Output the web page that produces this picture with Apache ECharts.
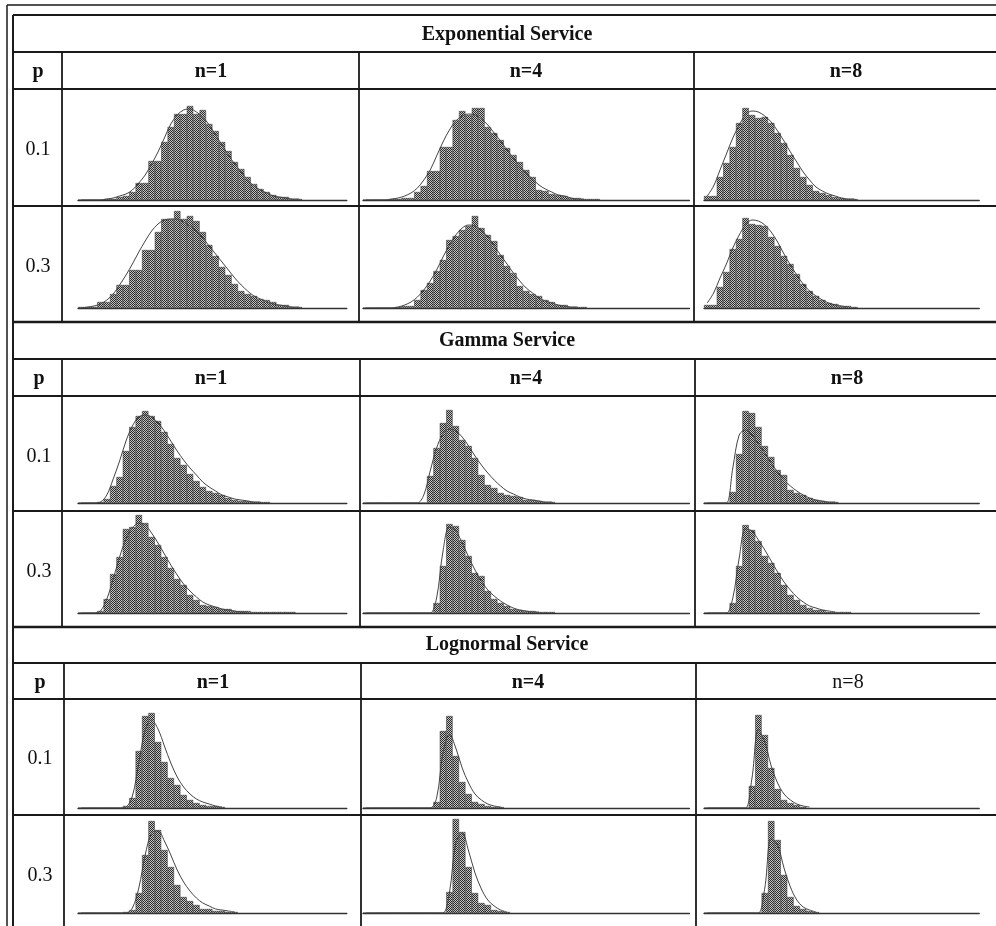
<!DOCTYPE html>
<html><head><meta charset="utf-8">
<script src="https://cdn.jsdelivr.net/npm/echarts@6/dist/echarts.min.js"></script>
<style>html,body{margin:0;padding:0;background:#fff}#c{width:996px;height:926px}</style>
</head><body><div id="c"></div>
<script>
// ---------- DATA ----------
const serviceTitles = ['Exponential Service', 'Gamma Service', 'Lognormal Service'];
const nLabels = ['n=1', 'n=4', 'n=8'];
const pLabels = ['0.1', '0.3'];

// Exponential service
const expN1P01Bars  = [0,0,0,0,1,1,3,4,8,17,17,39,39,58,73,86,86,94,86,90,76,69,58,49,38,31,23,16,11,8,5,3,3,1,1];
const expN1P01Curve = [0,0,0,0,1,2,4,6,10,17,25,36,48,62,76,85,90,91,88,83,75,65,55,45,36,28,20,14,10,7,4,3,2,1,1];
const expN4P01Bars  = [0,0,0,0,1,1,2,2,8,14,29,29,53,53,80,89,85,92,92,73,67,60,52,45,38,30,23,10,9,6,5,4,2,2,1,1,1];
const expN4P01Curve = [0,0,0,0,1,2,4,7,12,20,30,44,58,70,79,84,86,85,81,75,67,59,50,42,34,27,21,15,11,8,5,4,2,1,1];
const expN8P01Bars  = [4,4,23,37,53,77,92,85,82,83,77,67,57,45,32,23,15,9,7,5,3,2,1,1];
const expN8P01Curve = [4,14,30,46,62,75,85,89,88,84,78,69,59,48,38,28,20,13,9,6,4,2,1,1];
const expN1P03Bars  = [1,1,1,6,6,14,23,23,38,38,58,58,76,89,89,97,89,92,87,76,63,52,41,33,24,17,14,12,9,8,6,3,3,1,1];
const expN1P03Curve = [0,1,2,4,8,14,23,33,44,56,67,77,84,88,89,89,86,82,77,70,62,54,46,38,30,23,17,12,9,6,4,3,2,1,1];
const expN4P03Bars  = [0,0,0,0,0,1,2,2,8,18,25,37,48,68,72,78,82,92,80,73,67,53,42,35,22,17,14,12,8,6,3,3,1,1,1];
const expN4P03Curve = [0,0,0,0,0,1,3,6,11,18,27,38,51,63,73,80,83,82,78,71,62,53,44,35,27,20,15,10,7,5,3,2,1,1];
const expN8P03Bars  = [3,3,21,36,59,69,90,84,83,82,71,62,52,44,34,24,17,12,8,5,4,2,2,1];
const expN8P03Curve = [5,15,30,44,60,73,83,88,87,83,76,66,54,43,33,24,17,12,8,5,3,2,1];

// Gamma service
const gamN1P01Bars  = [0,0,0,1,4,17,26,52,76,87,92,87,82,71,59,45,38,29,22,16,12,10,8,5,3,2,2,1,1,1];
const gamN1P01Curve = [0,0,0,1,8,24,42,62,77,86,88,86,80,72,62,52,43,35,28,21,16,12,8,6,4,3,2,1,1];
const gamN4P01Bars  = [0,0,0,0,0,0,0,0,0,0,27,55,80,93,77,63,57,45,28,18,15,10,8,7,6,3,3,2,1,1];
const gamN4P01Curve = [0,0,0,0,0,0,0,0,0,8,32,55,69,74,72,66,57,47,38,30,23,17,12,9,6,4,3,2,1,1];
const gamN8P01Bars  = [0,0,0,0,11,49,92,90,76,57,46,33,28,13,10,8,5,3,2,1,1];
const gamN8P01Curve = [0,0,0,0,35,68,73,68,59,50,40,31,23,17,12,8,5,3,2,1,1];
const gamN1P03Bars  = [0,0,0,2,14,39,56,84,86,98,90,76,68,56,45,34,28,18,13,8,7,6,4,4,2,2,2,1,1,1,1,1,1,1];
const gamN1P03Curve = [0,0,0,2,14,34,56,74,85,90,88,80,70,59,48,38,29,22,16,11,8,6,4,3,2,1,1];
const gamN4P03Bars  = [0,0,0,0,0,0,0,0,0,0,0,10,47,89,87,73,57,40,37,22,14,10,7,4,3,2,2,1,1,1];
const gamN4P03Curve = [0,0,0,0,0,0,0,0,0,0,0,15,62,86,82,70,56,43,32,23,17,12,8,5,3,2,1,1];
const gamN8P03Bars  = [0,0,0,0,10,47,88,83,72,57,50,40,28,18,13,8,5,3,3,1,1,1,1];
const gamN8P03Curve = [0,0,0,0,15,55,84,82,73,63,52,41,31,23,16,11,7,5,3,2,1];

// Lognormal service
const logN1P01Bars  = [0,0,0,0,0,0,0,2,10,57,92,95,66,46,30,23,13,8,5,3,2,2,1];
const logN1P01Curve = [0,0,0,0,0,0,0,1,12,45,78,88,79,62,45,31,21,14,9,6,4,2,1];
const logN4P01Bars  = [0,0,0,0,0,0,0,0,0,0,0,6,77,92,52,26,14,6,4,2,1,1];
const logN4P01Curve = [0,0,0,0,0,0,0,0,0,0,0,10,55,74,60,40,25,14,8,4,2,1];
const logN8P01Bars  = [0,0,0,0,0,0,0,22,93,73,40,19,8,5,3,1];
const logN8P01Curve = [0,0,0,0,0,0,0,30,78,66,42,25,14,8,4,2,1];
const logN1P03Bars  = [0,0,0,0,0,0,0,1,3,20,58,92,83,63,46,28,16,12,8,4,4,2,2,1,1];
const logN1P03Curve = [0,0,0,0,0,0,0,0,5,25,58,80,82,72,58,43,31,22,15,10,7,4,3,2,1];
const logN4P03Bars  = [0,0,0,0,0,0,0,0,0,0,0,0,0,21,94,81,46,20,10,8,3,2,1];
const logN4P03Curve = [0,0,0,0,0,0,0,0,0,0,0,0,0,20,70,80,62,40,24,13,7,3,1];
const logN8P03Bars  = [0,0,0,0,0,0,0,0,0,20,92,73,38,16,7,4,2,1];
const logN8P03Curve = [0,0,0,0,0,0,0,0,0,25,75,68,45,26,13,6,3,1];

// ---------- LAYOUT ----------
const BIN = 6.4;
const colLeft = [78, 363, 704];
const colBins = [42, 51, 43];
const rowBase = [[200, 308], [503, 613], [808, 913]];
const PH = 100; // plot height in px, y max

const panels = [
  [0,0,0,expN1P01Bars,expN1P01Curve],[0,0,1,expN4P01Bars,expN4P01Curve],[0,0,2,expN8P01Bars,expN8P01Curve],
  [0,1,0,expN1P03Bars,expN1P03Curve],[0,1,1,expN4P03Bars,expN4P03Curve],[0,1,2,expN8P03Bars,expN8P03Curve],
  [1,0,0,gamN1P01Bars,gamN1P01Curve],[1,0,1,gamN4P01Bars,gamN4P01Curve],[1,0,2,gamN8P01Bars,gamN8P01Curve],
  [1,1,0,gamN1P03Bars,gamN1P03Curve],[1,1,1,gamN4P03Bars,gamN4P03Curve],[1,1,2,gamN8P03Bars,gamN8P03Curve],
  [2,0,0,logN1P01Bars,logN1P01Curve],[2,0,1,logN4P01Bars,logN4P01Curve],[2,0,2,logN8P01Bars,logN8P01Curve],
  [2,1,0,logN1P03Bars,logN1P03Curve],[2,1,1,logN4P03Bars,logN4P03Curve],[2,1,2,logN8P03Bars,logN8P03Curve]
];

// hatch pattern
const pat = document.createElement('canvas');
pat.width = 4; pat.height = 4;
const pc = pat.getContext('2d');
pc.fillStyle = '#c4c4c4'; pc.fillRect(0,0,4,4);
pc.fillStyle = '#2a2a2a';
for (let y = 0; y < 4; y++) for (let x = 0; x < 4; x++) if ((x + y) % 2 === 0) pc.fillRect(x, y, 1, 1);

const grid = [], xAxis = [], yAxis = [], series = [];
panels.forEach((pn, i) => {
  const [s, r, c, bars, curve] = pn;
  const base = rowBase[s][r];
  const cats = Array.from({length: colBins[c]}, (_, k) => String(k));
  grid.push({left: colLeft[c], top: base - PH, width: colBins[c] * BIN, height: PH});
  xAxis.push({type: 'category', gridIndex: i, data: cats, boundaryGap: true,
    axisLine: {show: true, lineStyle: {color: '#333', width: 1.4}},
    axisTick: {show: false}, axisLabel: {show: false}, splitLine: {show: false}});
  yAxis.push({type: 'value', gridIndex: i, min: 0, max: PH, show: false});
  series.push({type: 'bar', xAxisIndex: i, yAxisIndex: i, data: bars,
    barCategoryGap: '0%', barGap: '0%',
    itemStyle: {color: {image: pat, repeat: 'repeat'}, borderColor: '#333', borderWidth: 0.5}});
  series.push({type: 'line', xAxisIndex: i, yAxisIndex: i, data: curve, smooth: 0.35,
    symbol: 'none', z: 4, lineStyle: {color: '#444', width: 1}});
});

// table lines & text
const g = [];
const LC = '#1a1a1a';
function hl(y, x1, x2, w) { g.push({type: 'line', shape: {x1, y1: y, x2, y2: y}, style: {stroke: LC, lineWidth: w}, silent: true}); }
function vl(x, y1, y2, w) { g.push({type: 'line', shape: {x1: x, y1, x2: x, y2}, style: {stroke: LC, lineWidth: w}, silent: true}); }
function tx(text, x, y, bold) {
  g.push({type: 'text', x, y, silent: true, style: {text, fill: '#111',
    font: (bold ? 'bold ' : '') + '20px "Liberation Serif", "Times New Roman", serif',
    textAlign: 'center', textVerticalAlign: 'middle', align: 'center', verticalAlign: 'middle'}});
}
hl(5, 7, 996, 1.5); vl(7, 5, 926, 1.5);
hl(15, 13, 996, 2); vl(13, 15, 926, 2);
[52, 89, 206, 359, 396, 511, 663, 699, 815].forEach(y => hl(y, 13, 996, 1.8));
[322, 627].forEach(y => hl(y, 13, 996, 2.4));
const blocks = [
  {y1: 52, y2: 322, xs: [62, 359, 694], title: 35, head: 72, rows: [150, 267]},
  {y1: 359, y2: 627, xs: [62, 360, 695], title: 341, head: 379, rows: [457, 572]},
  {y1: 663, y2: 926, xs: [64, 361, 696], title: 645, head: 683, rows: [759, 876]}
];
const headX = [[211, 526, 846], [211, 526, 847], [213, 528, 848]];
blocks.forEach((b, s) => {
  b.xs.forEach(x => vl(x, b.y1, b.y2, 1.8));
  tx(serviceTitles[s], 507, b.title, true);
  tx('p', 38 + s, b.head, true);
  nLabels.forEach((t, c) => tx(t, headX[s][c], b.head, !(s === 2 && c === 2)));
  pLabels.forEach((t, r) => tx(t, 38 + s, b.rows[r], false));
});

const chart = echarts.init(document.getElementById('c'), null, {renderer: 'canvas'});
chart.setOption({animation: false, backgroundColor: '#fff', grid, xAxis, yAxis, series, graphic: g});
</script></body></html>
